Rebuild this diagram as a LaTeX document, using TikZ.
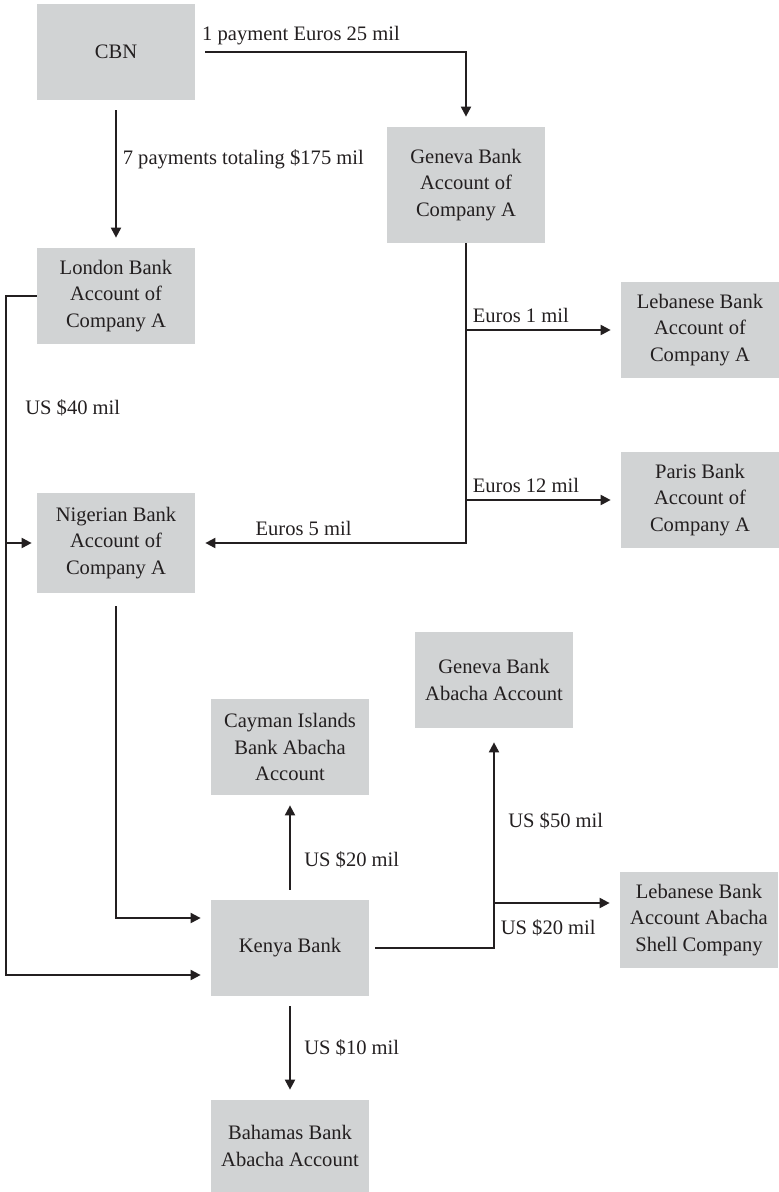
\documentclass[tikz,border=0pt]{standalone}
\usepackage{fontspec}
\setmainfont{Liberation Serif}
\usepackage{tikz}
\usetikzlibrary{positioning}
\usetikzlibrary{arrows.meta}
\definecolor{boxgray}{RGB}{209,211,212}
\definecolor{ink}{RGB}{35,31,32}
\tikzset{
    money flow/.style={
            x=0.2mm,y=-0.2mm,
            font=\fontsize{11.7}{15}\selectfont,
            text=ink,
            bank/.style={fill=boxgray,minimum width=31.6mm,minimum height=19.2mm,align=center,inner sep=0pt},
            arrow/.style={draw=ink,line width=1.1pt,-{Triangle[length=2mm,width=2mm]},shorten >=2mm},
            gap/.style={shorten <=2mm}
        }
    }

\begin{document}
\begin{tikzpicture}[money flow]
                \useasboundingbox (0,0) rectangle (779,1192);
                \node (cbn) [bank] at (116,52) {CBN};
                \node (genevaA) [bank, minimum height=23.2mm] at (466,185) {Geneva Bank\\Account of\\Company A};
                \node (london) [bank] at (116,296) {London Bank\\Account of\\Company A};
                \node (lebanonA) [bank] at (700,330) {Lebanese Bank\\Account of\\Company A};
                \node (paris) [bank] at (700,500) {Paris Bank\\Account of\\Company A};
                \node (nigeria) [bank, minimum height=20mm] at (116,543) {Nigerian Bank\\Account of\\Company A};
                \node (genevaX) [bank] at (494,680) {Geneva Bank\\Abacha Account};
                \node (cayman) [bank] at (290,747) {Cayman Islands\\Bank Abacha\\Account};
                \node (shell) [bank] at (699,920) {Lebanese Bank\\Account Abacha\\Shell Company};
                \node (kenya) [bank] at (290,948) {Kenya Bank};
                \node (bahamas) [bank, minimum height=18.4mm] at (290,1146) {Bahamas Bank\\Abacha Account};
                \coordinate (rail) at (6,292);
                \coordinate (shellin) at ([yshift=3.4mm]shell.west);
                \draw [arrow, gap] (cbn.east) -| (genevaA.north) node [pos=0, above right] {1 payment Euros 25 mil};
                \draw [arrow, gap] (cbn.south) -- (london.north) node [pos=0.4, right] {7 payments totaling \$175 mil};
                \draw [arrow] (london.west) -- (london.west -| rail) |- ([yshift=-5.4mm]kenya.west) node [pos=0.082, right=2.5mm] {US \$40 mil};
                \draw [arrow, shorten >=1mm] (nigeria.west -| rail) -- (nigeria.west);
                \draw [arrow, shorten <=2.6mm] (nigeria.south) |- ([yshift=6mm]kenya.west);
                \draw [arrow] (genevaA.south) |- (nigeria.east) node [pos=0.8, above] {Euros 5 mil};
                \draw [arrow] (genevaA.south |- lebanonA.west) -- (lebanonA.west) node [pos=0, above right] {Euros 1 mil};
                \draw [arrow] (genevaA.south |- paris.west) -- (paris.west) node [pos=0, above right] {Euros 12 mil};
                \draw [arrow, gap] (kenya.north) -- (cayman.south) node [pos=0.38, right=1.5mm] {US \$20 mil};
                \draw [arrow, shorten <=1.2mm, shorten >=2.8mm] (kenya.east) -| (genevaX.south) node [pos=0.79, right=1.5mm] {US \$50 mil};
                \draw [arrow] (genevaX.south |- shellin) -- (shellin) node [pos=0, below right, yshift=-2mm] {US \$20 mil};
                \draw [arrow, gap] (kenya.south) -- (bahamas.north) node [midway, right=1.5mm] {US \$10 mil};
            \end{tikzpicture}
\end{document}
